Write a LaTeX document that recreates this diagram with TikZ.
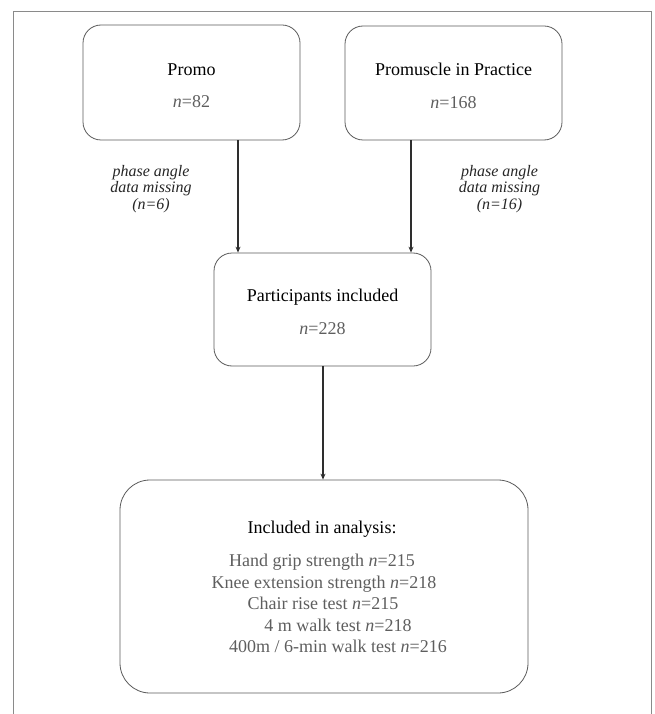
\documentclass[tikz,border=0pt]{standalone}
\usepackage{fontspec}
\setmainfont{Liberation Serif}
\usetikzlibrary{arrows.meta}
\definecolor{boxline}{HTML}{5A5A5A}
\definecolor{frameline}{HTML}{8A8A8A}
\definecolor{graytext}{HTML}{5E5E5E}
\definecolor{arrowc}{HTML}{2E2E2E}
\tikzset{
  flowbox/.style={draw=boxline, line width=0.8pt, rounded corners=18pt, inner sep=0pt},
  bigbox/.style={draw=boxline, line width=0.8pt, rounded corners=30pt, inner sep=0pt},
  title/.style={anchor=base, inner sep=0pt, font=\fontsize{18}{22}\selectfont, text=black},
  count/.style={anchor=base, inner sep=0pt, font=\fontsize{18}{22}\selectfont, text=graytext},
  lab/.style={anchor=base, inner sep=0pt, font=\fontsize{16}{17}\selectfont\itshape, text=black!85},
  arr/.style={draw=arrowc, line width=1.2pt, -{Stealth[length=6pt,width=5pt]}}
}
\begin{document}
\begin{tikzpicture}[x=1pt, y=-1pt]
\useasboundingbox (0,0) rectangle (654,714);
% outer frame (open at bottom)
\draw[frameline, line width=1pt] (13,714) -- (13,12) -- (651,12) -- (651,714);

% boxes
\node[flowbox, minimum width=217pt, minimum height=115pt] (a) at (191.5,82.5) {};
\node[flowbox, minimum width=217pt, minimum height=114pt] (b) at (453.5,83) {};
\node[flowbox, minimum width=217pt, minimum height=113pt] (c) at (322.5,309.5) {};
\node[bigbox, minimum width=408pt, minimum height=213pt] (d) at (324,586.5) {};

% texts
\node[title] (at) at (191.5,76) {Promo};
\node[count] (an) at (191.5,108) {\textit{n}=82};
\node[title] (bt) at (453.5,76) {Promuscle in Practice};
\node[count] (bn) at (453.5,109) {\textit{n}=168};
\node[title] (ct) at (322.5,301) {Participants included};
\node[count] (cn) at (322.5,334) {\textit{n}=228};
\node[title] (dt) at (322,533) {Included in analysis:};
\node[count] (d1) at (322,566) {Hand grip strength \textit{n}=215};
\node[count] (d2) at (324,588) {Knee extension strength \textit{n}=218};
\node[count] (d3) at (323,609.5) {Chair rise test \textit{n}=215};
\node[count] (d4) at (338,631) {4 m walk test \textit{n}=218};
\node[count] (d5) at (338,652.5) {400m / 6-min walk test \textit{n}=216};

% side labels
\node[lab] (l1) at (151,176) {phase angle};
\node[lab] (l2) at (151,192.5) {data missing};
\node[lab] (l3) at (151,209.5) {(n=6)};
\node[lab] (r1) at (499.5,176) {phase angle};
\node[lab] (r2) at (499.5,192.5) {data missing};
\node[lab] (r3) at (499.5,209.5) {(n=16)};

% connectors
\draw[arr] ([xshift=46.5pt]a.south) -- ([xshift=-84.5pt]c.north);
\draw[arr] ([xshift=-42.5pt]b.south) -- ([xshift=88.5pt]c.north);
\draw[arr] ([xshift=0.5pt]c.south) -- ([xshift=-1pt]d.north);
\end{tikzpicture}
\end{document}
